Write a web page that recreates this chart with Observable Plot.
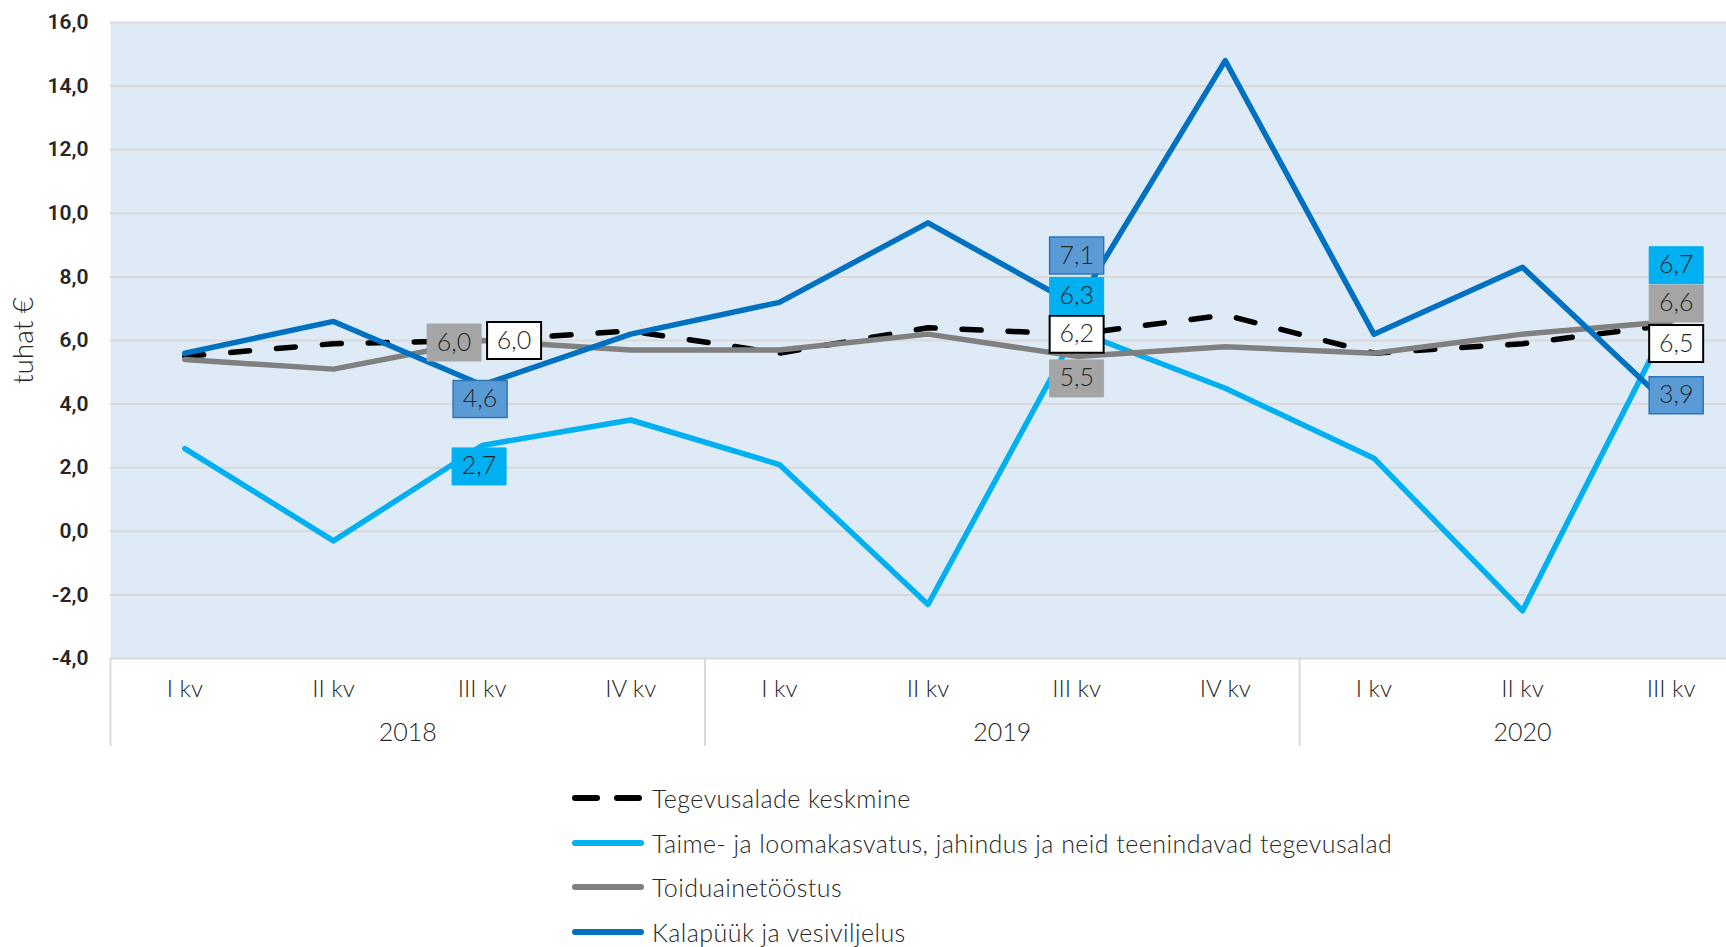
<!DOCTYPE html>
<html>
<head>
<meta charset="utf-8">
<script src="https://cdn.jsdelivr.net/npm/d3@7"></script>
<script src="https://cdn.jsdelivr.net/npm/@observablehq/plot@0.6"></script>
<style>
  body { margin: 0; background: #ffffff; }
  #chart svg { display: block; }
  #legend { position: relative; width: 1726px; height: 177px; font-family: Lato, "Open Sans", sans-serif; font-weight: 300; font-size: 25px; letter-spacing: 0.45px; color: #262626; }
  #legend .row { position: absolute; left: 572px; height: 30px; display: flex; align-items: center; white-space: nowrap; }
  #legend svg { display: block; margin-right: 8px; }
</style>
</head>
<body>
<div id="chart"></div>
<div id="legend"></div>
<script>
// ---- data ----
const quarters = ["I kv", "II kv", "III kv", "IV kv", "I kv", "II kv", "III kv", "IV kv", "I kv", "II kv", "III kv"];
const yearOf   = ["2018", "2018", "2018", "2018", "2019", "2019", "2019", "2019", "2020", "2020", "2020"];
const seriesNames = [
  "Tegevusalade keskmine",
  "Taime- ja loomakasvatus, jahindus ja neid teenindavad tegevusalad",
  "Toiduainetööstus",
  "Kalapüük ja vesiviljelus"
];
const keskmine = [5.5, 5.9, 6.0, 6.3, 5.6, 6.4, 6.2, 6.8, 5.6, 5.9, 6.5];
const taime    = [2.6, -0.3, 2.7, 3.5, 2.1, -2.3, 6.3, 4.5, 2.3, -2.5, 6.7];
const toidu    = [5.4, 5.1, 6.0, 5.7, 5.7, 6.2, 5.5, 5.8, 5.6, 6.2, 6.6];
const kala     = [5.6, 6.6, 4.6, 6.2, 7.2, 9.7, 7.1, 14.8, 6.2, 8.3, 3.9];
const yTicks = [-4, -2, 0, 2, 4, 6, 8, 10, 12, 14, 16];
const labelIndices = [2, 6, 10];

// ---- styles / placement (not data) ----
const seriesValues = [keskmine, taime, toidu, kala];
const seriesStyle = [
  {stroke: "#000000", dash: "19,27", boxFill: "#ffffff", boxStroke: "#000000", boxStrokeWidth: 2},
  {stroke: "#00b0f0", dash: null, boxFill: "#00b0f0", boxStroke: "#00b0f0", boxStrokeWidth: 1},
  {stroke: "#808080", dash: null, boxFill: "#a5a5a5", boxStroke: "#a5a5a5", boxStrokeWidth: 1},
  {stroke: "#0070c0", dash: null, boxFill: "#5b9bd5", boxStroke: "#2e75b6", boxStrokeWidth: 1.5}
];
// pixel offsets of each data label from its point, per series, per labelled index
const labelOffsets = [
  [[32, 0], [0, 0], [5, 19]],
  [[-3, 21], [0, -35], [5, -53]],
  [[-28, 2], [0, 22], [5, -18]],
  [[-2, 14], [0, -50], [5, -12]]
];

const fmt = v => v.toFixed(1).replace(".", ",");
const lightFont = "Lato, 'Open Sans', sans-serif";

const boxSymbol = {
  draw(ctx) {
    const w = 27, h = 18.5;
    ctx.moveTo(-w, -h); ctx.lineTo(w, -h); ctx.lineTo(w, h); ctx.lineTo(-w, h); ctx.closePath();
  }
};

// long-format table
const rows = seriesValues.flatMap((vals, s) => vals.map((v, i) => ({s, name: seriesNames[s], i, v})));

// year groups
const yearGroups = d3.groups(yearOf.map((y, i) => ({y, i})), d => d.y).map(([year, arr]) => ({
  year,
  mid: d3.mean(arr, d => d.i),
  start: d3.min(arr, d => d.i) - 0.5,
  end: d3.max(arr, d => d.i) + 0.5
}));
const separators = yearGroups.map(g => g.start).concat([yearGroups[yearGroups.length - 1].end]);

const marks = [
  Plot.frame({fill: "#deebf7", stroke: null}),
  Plot.gridY(yTicks, {stroke: "#d9d9d9", strokeOpacity: 1, strokeWidth: 2}),
  Plot.axisY(yTicks, {
    tickSize: 0, tickPadding: 22, tickFormat: fmt, label: null,
    fontSize: 21, fontWeight: 600, fill: "#262626", fontFamily: "Roboto, sans-serif"
  }),
  Plot.axisX(separators, {
    tickSize: 88, tickFormat: () => "", label: null, stroke: "#d9d9d9", strokeWidth: 2
  }),
  Plot.text(quarters, {
    x: (d, i) => i, text: d => d, frameAnchor: "bottom", dy: 31, lineAnchor: "middle",
    fontSize: 24, fill: "#262626", fontFamily: lightFont, fontWeight: 300, letterSpacing: 0.3
  }),
  Plot.text(yearGroups, {
    x: "mid", text: "year", frameAnchor: "bottom", dy: 74, lineAnchor: "middle",
    fontSize: 25, fill: "#262626", fontFamily: lightFont, fontWeight: 300, letterSpacing: 0.5
  }),
  Plot.text(["tuhat €"], {
    text: d => d, frameAnchor: "left", textAnchor: "middle", dx: -86, rotate: -90,
    fontSize: 28, fill: "#262626", fontFamily: lightFont, fontWeight: 300
  })
];

seriesValues.forEach((vals, s) => {
  const st = seriesStyle[s];
  marks.push(Plot.line(rows.filter(r => r.s === s), {
    x: "i", y: "v", stroke: st.stroke, strokeWidth: 5.5,
    strokeDasharray: st.dash || undefined,
    strokeLinecap: "round", strokeLinejoin: "round"
  }));
});

seriesValues.forEach((vals, s) => {
  const st = seriesStyle[s];
  labelIndices.forEach((idx, k) => {
    const [dx, dy] = labelOffsets[s][k];
    const d = rows.filter(r => r.s === s && r.i === idx);
    marks.push(Plot.dot(d, {
      x: "i", y: "v", dx, dy, symbol: boxSymbol, r: 10,
      fill: st.boxFill, stroke: st.boxStroke, strokeWidth: st.boxStrokeWidth
    }));
    marks.push(Plot.text(d, {
      x: "i", y: "v", dx, dy, text: r => fmt(r.v),
      fontSize: 25, fill: "#262626", fontFamily: lightFont, fontWeight: 300
    }));
  });
});

const chart = Plot.plot({
  width: 1726,
  height: 770,
  marginTop: 22,
  marginBottom: 112,
  marginLeft: 110,
  marginRight: -19,
  x: {type: "linear", domain: [-0.5, quarters.length - 0.5], label: null},
  y: {domain: [yTicks[0], yTicks[yTicks.length - 1]], label: null},
  style: {fontFamily: lightFont, background: "#ffffff", overflow: "hidden"},
  marks
});
document.getElementById("chart").appendChild(chart);

// ---- legend (HTML below the SVG) ----
const legend = document.getElementById("legend");
const rowTops = [13, 58, 102, 147];
seriesNames.forEach((name, s) => {
  const st = seriesStyle[s];
  const row = document.createElement("div");
  row.className = "row";
  row.style.top = rowTops[s] + "px";
  const dash = st.dash ? 'stroke-dasharray="22,20"' : "";
  row.innerHTML = `<svg width="72" height="12"><line x1="3" y1="6" x2="69" y2="6" stroke="${st.stroke}" stroke-width="6" stroke-linecap="round" ${dash}/></svg><span>${name}</span>`;
  legend.appendChild(row);
});
</script>
</body>
</html>
